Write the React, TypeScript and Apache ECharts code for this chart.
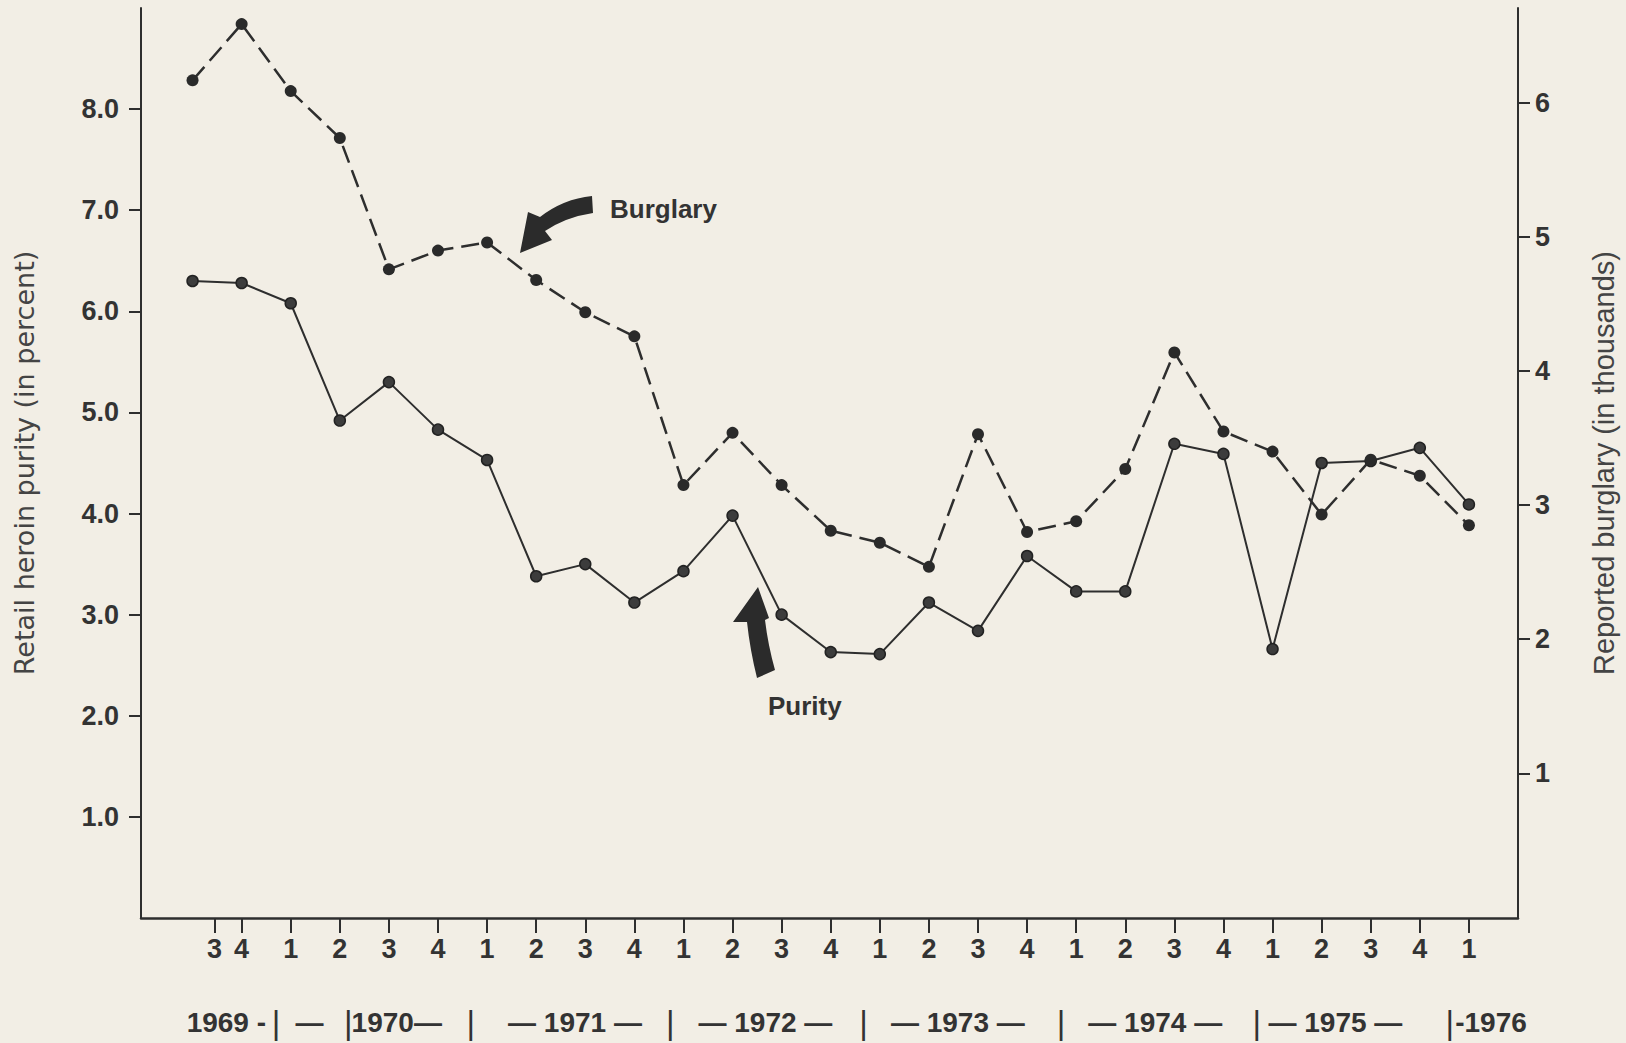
import React, { useEffect, useRef } from "react";
import * as echarts from "echarts";

// ---- data (quarterly, 1969 Q3 – 1976 Q1) ----
const quarters = [
  "1969 Q3", "1969 Q4",
  "1970 Q1", "1970 Q2", "1970 Q3", "1970 Q4",
  "1971 Q1", "1971 Q2", "1971 Q3", "1971 Q4",
  "1972 Q1", "1972 Q2", "1972 Q3", "1972 Q4",
  "1973 Q1", "1973 Q2", "1973 Q3", "1973 Q4",
  "1974 Q1", "1974 Q2", "1974 Q3", "1974 Q4",
  "1975 Q1", "1975 Q2", "1975 Q3", "1975 Q4",
  "1976 Q1",
];
// Retail heroin purity (percent) — left axis
const purity = [
  6.3, 6.28, 6.08, 4.92, 5.3, 4.83, 4.53, 3.38, 3.5, 3.12,
  3.43, 3.98, 3.0, 2.63, 2.61, 3.12, 2.84, 3.58, 3.23, 3.23,
  4.69, 4.59, 2.66, 4.5, 4.52, 4.65, 4.09,
];
// Reported burglary (thousands) — right axis
const burglary = [
  6.17, 6.59, 6.09, 5.74, 4.76, 4.9, 4.96, 4.68, 4.44, 4.26,
  3.15, 3.54, 3.15, 2.81, 2.72, 2.54, 3.53, 2.8, 2.88, 3.27,
  4.14, 3.55, 3.4, 2.93, 3.34, 3.22, 2.85,
];
// quarter tick marks on the time axis (value = quarter index; the first one sits off-grid in the original)
const quarterTickValues = [0.45, 1, 2, 3, 4, 5, 6, 7, 8, 9, 10, 11, 12, 13, 14, 15, 16, 17, 18, 19, 20, 21, 22, 23, 24, 25, 26];
const quarterTickLabels = ["3", "4", "1", "2", "3", "4", "1", "2", "3", "4", "1", "2", "3", "4", "1", "2", "3", "4", "1", "2", "3", "4", "1", "2", "3", "4", "1"];
const leftTicks = [1, 2, 3, 4, 5, 6, 7, 8];
const rightTicks = [1, 2, 3, 4, 5, 6];
// year row under the quarter labels (anchored on the quarter axis)
const yearRowTexts = ["1969 -", "|", "—", "|", "1970—", "|", "— 1971 —", "|", "— 1972 —", "|", "— 1973 —", "|", "— 1974 —", "|", "— 1975 —", "|", "-1976"];
const yearRowAt = [-0.12, 1.7, 2.38, 3.17, 3.24, 5.67, 7.79, 9.73, 11.67, 13.67, 15.59, 17.69, 19.61, 21.68, 23.28, 25.61, 25.72];
const yearRowAlign = ["left", "center", "center", "center", "left", "center", "center", "center", "center", "center", "center", "center", "center", "center", "center", "center", "left"];

const BG = "#f2eee5";
const INK = "#2e2e2e";
const NUMFONT = "'Liberation Sans Narrow', 'Liberation Sans', Arial, sans-serif";

echarts.graphic.registerShape(
  "burglaryArrow",
  echarts.graphic.extendPath("M74 3 Q45 6 22 24 L10 19 L2 60 L34 47 L27 38 Q48 24 75 20 Z", {})
);
echarts.graphic.registerShape(
  "purityArrow",
  echarts.graphic.extendPath("M28 2 L39 33 L35 35 Q38 60 45 85 L27 93 Q20 65 17 37 L3 37 Z", {})
);

export default function App() {
  const ref = useRef<HTMLDivElement>(null);

  useEffect(() => {
    if (!ref.current) return;
    document.body.style.margin = "0";
    document.body.style.background = BG;
    const chart = echarts.init(ref.current, undefined, { renderer: "svg" });

    const option: any = {
      animation: false,
      backgroundColor: BG,
      grid: { left: 141, right: 106, top: 8, bottom: 125, containLabel: false },
      xAxis: {
        type: "value",
        min: -1.05,
        max: 27,
        splitLine: { show: false },
        axisLine: { show: true, onZero: false, lineStyle: { color: INK, width: 2.5 } },
        axisTick: { show: true, customValues: quarterTickValues, length: 15, lineStyle: { color: INK, width: 2 } },
        axisLabel: {
          customValues: quarterTickValues,
          margin: 17,
          color: "#333",
          fontFamily: NUMFONT,
          fontWeight: "bold",
          fontSize: 27,
          formatter: (v: number) => {
            const i = quarterTickValues.findIndex((t) => Math.abs(t - v) < 1e-6);
            return i >= 0 ? quarterTickLabels[i] : "";
          },
        },
      },
      yAxis: [
        {
          type: "value",
          position: "left",
          min: 0,
          max: 9,
          name: "Retail heroin purity (in percent)",
          nameLocation: "middle",
          nameGap: 103,
          nameTextStyle: { fontFamily: "'DejaVu Sans', sans-serif", fontSize: 27, color: "#444" },
          splitLine: { show: false },
          axisLine: { show: true, onZero: false, lineStyle: { color: INK, width: 2 } },
          axisTick: { show: true, customValues: leftTicks, length: 12, lineStyle: { color: INK, width: 2 } },
          axisLabel: {
            customValues: leftTicks,
            margin: 22,
            color: "#333",
            fontFamily: NUMFONT,
            fontWeight: "bold",
            fontSize: 27,
            formatter: (v: number) => v.toFixed(1),
          },
        },
        {
          type: "value",
          position: "right",
          min: -0.08,
          max: 6.71,
          name: "Reported burglary (in thousands)",
          nameLocation: "middle",
          nameGap: 71,
          nameTextStyle: { fontFamily: "'Liberation Sans', Arial, sans-serif", fontSize: 29, color: "#444" },
          splitLine: { show: false },
          axisLine: { show: true, onZero: false, lineStyle: { color: INK, width: 2 } },
          axisTick: { show: true, customValues: rightTicks, length: 12, lineStyle: { color: INK, width: 2 } },
          axisLabel: {
            customValues: rightTicks,
            margin: 17,
            color: "#333",
            fontFamily: NUMFONT,
            fontWeight: "bold",
            fontSize: 27,
            formatter: (v: number) => String(v),
          },
        },
      ],
      series: [
        {
          name: "Purity",
          type: "line",
          yAxisIndex: 0,
          data: quarters.map((_, i) => [i, purity[i]]),
          symbol: "circle",
          symbolSize: 11,
          lineStyle: { color: INK, width: 2 },
          itemStyle: { color: "#3c3c3c", borderColor: "#222", borderWidth: 1.5 },
          z: 3,
        },
        {
          name: "Burglary",
          type: "line",
          yAxisIndex: 1,
          data: quarters.map((_, i) => [i, burglary[i]]),
          symbol: "circle",
          symbolSize: 12,
          lineStyle: { color: INK, width: 2.5, type: [18, 8] },
          itemStyle: { color: "#2a2a2a" },
          z: 4,
        },
      ],
    };
    chart.setOption(option);

    const yearY = 1022;
    const yearGraphics = yearRowTexts.map((t, i) => {
      const px = chart.convertToPixel({ xAxisIndex: 0 }, yearRowAt[i]) as number;
      const isBar = t === "|";
      return {
        type: "text",
        x: px,
        y: yearY,
        silent: true,
        style: {
          text: t,
          align: yearRowAlign[i],
          verticalAlign: "middle",
          fill: "#333",
          fontFamily: NUMFONT,
          fontWeight: isBar ? "normal" : "bold",
          fontSize: isBar ? 33 : 28,
        },
      };
    });

    chart.setOption({
      graphic: [
        ...yearGraphics,
        { type: "burglaryArrow", x: 518, y: 193, silent: true, style: { fill: "#2b2b2b" } },
        {
          type: "text",
          x: 610,
          y: 209,
          silent: true,
          style: { text: "Burglary", fill: "#333", fontFamily: "'Liberation Sans', Arial, sans-serif", fontWeight: "bold", fontSize: 26, verticalAlign: "middle" },
        },
        { type: "purityArrow", x: 730, y: 585, silent: true, style: { fill: "#2b2b2b" } },
        {
          type: "text",
          x: 768,
          y: 706,
          silent: true,
          style: { text: "Purity", fill: "#333", fontFamily: "'Liberation Sans', Arial, sans-serif", fontWeight: "bold", fontSize: 26, verticalAlign: "middle" },
        },
      ],
    });

    return () => chart.dispose();
  }, []);

  return <div ref={ref} style={{ position: "fixed", left: 0, top: 0, width: 1626, height: 1043 }} />;
}
